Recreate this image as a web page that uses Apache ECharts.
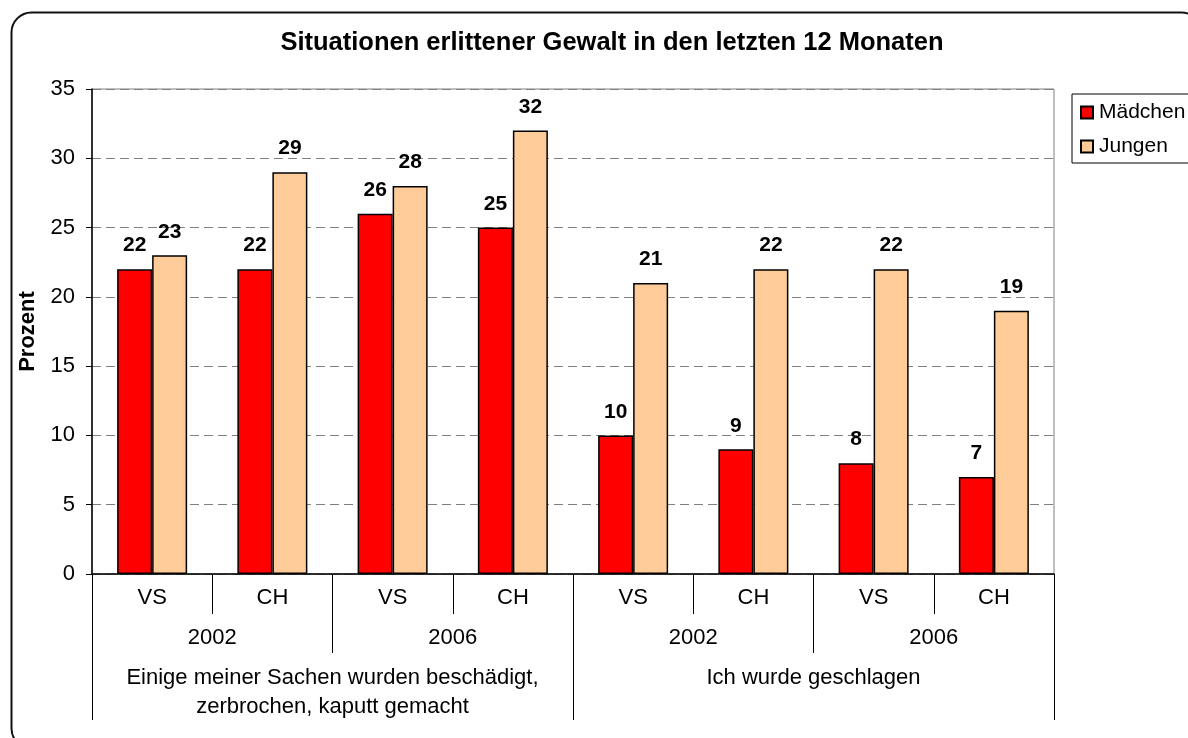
<!DOCTYPE html>
<html lang="de">

<head>
    <meta charset="UTF-8">
    <title>Situationen erlittener Gewalt</title>
    <script src="https://cdn.jsdelivr.net/npm/echarts@6/dist/echarts.min.js"></script>
    <style>
        html, body { margin: 0; padding: 0; background: #fff; }
        #main { width: 1188px; height: 738px; }
    </style>
</head>

<body>
    <div id="main"></div>
    <script>
        // Daten
        var subCats = ['VS', 'CH', 'VS', 'CH', 'VS', 'CH', 'VS', 'CH'];
        var years = ['2002', '2006', '2002', '2006'];
        var topics = ['Einige meiner Sachen wurden beschädigt,\nzerbrochen, kaputt gemacht', 'Ich wurde geschlagen'];
        var maedchen = [22, 22, 26, 25, 10, 9, 8, 7];
        var jungen = [23, 29, 28, 32, 21, 22, 22, 19];
        var seriesNames = ['Mädchen', 'Jungen'];

        var font = 'Liberation Sans, Arial, sans-serif';
        var myChart = echarts.init(document.getElementById('main'));

        var barLabel = {
            show: true,
            position: 'top',
            distance: 13,
            color: '#000',
            fontWeight: 'bold',
            fontSize: 21,
            fontFamily: font
        };

        var option = {
            backgroundColor: '#fff',
            animation: false,
            title: {
                text: 'Situationen erlittener Gewalt in den letzten 12 Monaten',
                left: 607,
                top: 25,
                textAlign: 'center',
                textStyle: { fontSize: 25.5, fontWeight: 'bold', color: '#000', fontFamily: font }
            },
            legend: {
                orient: 'vertical',
                left: 1072,
                top: 94,
                padding: [8, 20, 6, 8],
                itemGap: 13,
                itemWidth: 12,
                itemHeight: 12,
                icon: 'rect',
                borderColor: '#000',
                borderWidth: 1,
                textStyle: { fontSize: 21, color: '#000', fontFamily: font, padding: [0, 0, 0, 1] },
                data: seriesNames
            },
            grid: {
                left: 92,
                right: 134,
                top: 89,
                bottom: 164,
                show: true,
                borderColor: '#808080',
                borderWidth: 1
            },
            xAxis: [{
                type: 'category',
                data: subCats,
                position: 'bottom',
                axisLine: { show: true, lineStyle: { color: '#000', width: 1.5 } },
                axisTick: { show: true, interval: 0, length: 40, lineStyle: { color: '#000', width: 1 } },
                axisLabel: { fontSize: 22, color: '#000', fontFamily: font, margin: 13, interval: 0 },
                splitLine: { show: false }
            }, {
                type: 'category',
                data: years,
                position: 'bottom',
                offset: 40,
                axisLine: { show: false },
                axisTick: { show: true, interval: 0, length: 39, lineStyle: { color: '#000', width: 1 } },
                axisLabel: { fontSize: 22, color: '#000', fontFamily: font, margin: 13, interval: 0 },
                splitLine: { show: false }
            }, {
                type: 'category',
                data: topics,
                position: 'bottom',
                offset: 79,
                axisLine: { show: false },
                axisTick: { show: true, interval: 0, length: 67, lineStyle: { color: '#000', width: 1 } },
                axisLabel: { fontSize: 22, color: '#000', fontFamily: font, margin: 10, lineHeight: 29, interval: 0 },
                splitLine: { show: false }
            }],
            yAxis: {
                type: 'value',
                min: 0,
                max: 35,
                interval: 5,
                name: 'Prozent',
                nameLocation: 'middle',
                nameGap: 53,
                nameTextStyle: { fontSize: 22, fontWeight: 'bold', color: '#000', fontFamily: font },
                axisLine: { show: true, lineStyle: { color: '#000', width: 1.5 } },
                axisTick: { show: true, length: 6, lineStyle: { color: '#000' } },
                axisLabel: { fontSize: 22, color: '#000', fontFamily: font, margin: 17 },
                splitLine: { lineStyle: { color: '#808080', type: [9, 5], width: 1 } }
            },
            series: [{
                name: seriesNames[0],
                type: 'bar',
                xAxisIndex: 0,
                data: maedchen,
                barWidth: 35,
                barGap: '0%',
                itemStyle: { color: '#FF0000', borderColor: '#000', borderWidth: 1.5 },
                label: barLabel
            }, {
                name: seriesNames[1],
                type: 'bar',
                xAxisIndex: 0,
                data: jungen,
                barWidth: 35,
                barGap: '0%',
                itemStyle: { color: '#FFCC99', borderColor: '#000', borderWidth: 1.5 },
                label: barLabel
            }],
            graphic: [{
                type: 'rect',
                silent: true,
                shape: { x: 11.5, y: 12.5, width: 1190, height: 736, r: 20 },
                style: { fill: null, stroke: '#111', lineWidth: 2 }
            }]
        };

        myChart.setOption(option);
    </script>
</body>

</html>
